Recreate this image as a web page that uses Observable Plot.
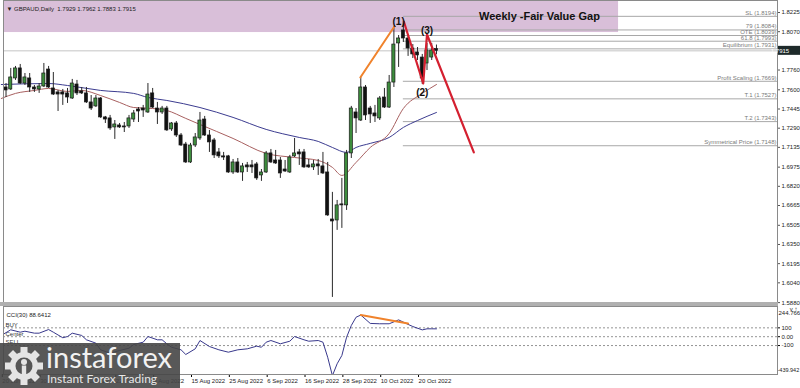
<!DOCTYPE html>
<html><head><meta charset="utf-8">
<script src="https://cdn.jsdelivr.net/npm/d3@7"></script>
<script src="https://cdn.jsdelivr.net/npm/@observablehq/plot@0.6"></script>
<style>
body{margin:0;background:#fff;}
#wrap{position:relative;width:800px;height:388px;overflow:hidden;font-family:"Liberation Sans",Arial,sans-serif;background:#fff;}
#main{position:absolute;left:0;top:0;}
#sep{position:absolute;left:0;top:302px;width:778px;height:4px;background:#b0b0b0;}
#sub{position:absolute;left:0;top:303px;}
#logo{position:absolute;left:0;top:343px;width:180px;height:45px;background:rgba(70,70,70,0.9);}
</style></head><body><div id="wrap"><div id="main"></div><div id="sub"></div><div id="sep"></div><div id="logo"></div></div>
<script>
// ---- data ----
const symbolTitle = "GBPAUD,Daily  1.7929 1.7962 1.7883 1.7915";
const open  = [1.7643,1.7619,1.7603,1.7692,1.7773,1.7651,1.7692,1.7619,1.7603,1.7627,1.7764,1.7611,1.7579,1.7579,1.7571,1.7530,1.7643,1.7587,1.7571,1.7498,1.7466,1.7530,1.7377,1.7369,1.7296,1.7312,1.7304,1.7304,1.7360,1.7441,1.7449,1.7417,1.7571,1.7449,1.7417,1.7449,1.7280,1.7328,1.7231,1.7158,1.7013,1.7150,1.7207,1.7360,1.7231,1.7191,1.7094,1.7062,1.7062,1.6932,1.7013,1.6932,1.6989,1.6989,1.6997,1.6908,1.6932,1.7086,1.7029,1.7029,1.6956,1.6932,1.7062,1.7094,1.7094,1.6989,1.6973,1.6997,1.6981,1.6932,1.6552,1.6544,1.6674,1.6666,1.7086,1.7417,1.7352,1.7619,1.7449,1.7409,1.7369,1.7538,1.7457,1.7659,1.7975,1.8080,1.8015,1.7934,1.7902,1.7861,1.7813,1.7861,1.7929];
const high  = [1.7659,1.7651,1.7773,1.7789,1.7805,1.7732,1.7732,1.7635,1.7651,1.7813,1.7789,1.7740,1.7595,1.7603,1.7611,1.7684,1.7676,1.7619,1.7619,1.7554,1.7554,1.7538,1.7385,1.7393,1.7352,1.7328,1.7336,1.7393,1.7433,1.7457,1.7474,1.7651,1.7611,1.7498,1.7466,1.7466,1.7336,1.7344,1.7247,1.7175,1.7167,1.7247,1.7417,1.7385,1.7272,1.7207,1.7126,1.7094,1.7070,1.7037,1.7045,1.7005,1.7013,1.7029,1.7013,1.6956,1.7102,1.7118,1.7110,1.7053,1.7029,1.7070,1.7207,1.7118,1.7118,1.7037,1.7029,1.7037,1.7094,1.7013,1.6771,1.6706,1.6884,1.7110,1.7466,1.7449,1.7700,1.7635,1.7466,1.7474,1.7546,1.7611,1.7716,1.8112,1.8039,1.8144,1.8039,1.7966,1.7942,1.7886,1.7975,1.7975,1.7962];
const low   = [1.7546,1.7538,1.7595,1.7676,1.7643,1.7635,1.7579,1.7579,1.7571,1.7619,1.7611,1.7554,1.7425,1.7474,1.7490,1.7522,1.7554,1.7562,1.7490,1.7433,1.7457,1.7369,1.7328,1.7272,1.7199,1.7288,1.7255,1.7288,1.7336,1.7336,1.7377,1.7409,1.7449,1.7320,1.7401,1.7264,1.7264,1.7215,1.7142,1.7005,1.7005,1.7134,1.7191,1.7223,1.7094,1.7045,1.7045,1.7029,1.6924,1.6916,1.6924,1.6860,1.6932,1.6924,1.6868,1.6860,1.6924,1.7005,1.6997,1.6884,1.6932,1.6924,1.7053,1.6989,1.6965,1.6965,1.6948,1.6908,1.6916,1.6577,1.5922,1.6464,1.6480,1.6625,1.7045,1.7247,1.7344,1.7352,1.7328,1.7336,1.7352,1.7449,1.7449,1.7619,1.7781,1.7983,1.7870,1.7853,1.7837,1.7643,1.7756,1.7837,1.7883];
const close = [1.7619,1.7595,1.7700,1.7773,1.7651,1.7700,1.7619,1.7603,1.7627,1.7732,1.7619,1.7562,1.7562,1.7562,1.7538,1.7651,1.7571,1.7571,1.7498,1.7449,1.7530,1.7377,1.7360,1.7288,1.7320,1.7296,1.7296,1.7369,1.7409,1.7425,1.7433,1.7562,1.7457,1.7417,1.7449,1.7272,1.7328,1.7231,1.7150,1.7013,1.7150,1.7215,1.7352,1.7231,1.7175,1.7070,1.7062,1.7053,1.6932,1.7013,1.6932,1.6981,1.6973,1.6973,1.6884,1.6932,1.7086,1.7013,1.7005,1.6924,1.6940,1.7053,1.7086,1.7078,1.6973,1.6973,1.6997,1.6981,1.6924,1.6585,1.6536,1.6666,1.6666,1.7086,1.7449,1.7369,1.7619,1.7393,1.7401,1.7385,1.7530,1.7457,1.7659,1.7966,1.8015,1.8015,1.7934,1.7886,1.7878,1.7692,1.7918,1.7918,1.7915];
// moving averages: [bar, price]
const maSlow = [[0,1.7643],[10,1.7651],[14,1.7635],[21,1.7595],[28,1.7571],[31,1.7538],[35,1.7514],[42,1.7457],[49,1.7377],[56,1.7280],[63,1.7215],[67,1.7183],[70,1.7134],[73,1.7094],[75,1.7134],[78,1.7167],[82,1.7215],[85,1.7296],[88,1.7352],[92,1.7417]];
const maFast = [[0,1.7530],[3,1.7571],[7,1.7595],[10,1.7611],[14,1.7587],[17,1.7595],[21,1.7554],[25,1.7498],[28,1.7457],[32,1.7449],[35,1.7433],[39,1.7369],[42,1.7320],[49,1.7207],[56,1.7086],[62,1.7053],[67,1.7029],[70,1.6973],[72,1.6908],[75,1.7013],[78,1.7134],[82,1.7247],[85,1.7449],[89,1.7571],[92,1.7643]];
// CCI(30): [bar, value]
const cci = [[0,14],[2,78],[4,51],[5,62],[7,40],[8,40],[10,81],[11,51],[13,-12],[14,2],[15,40],[17,14],[18,-35],[20,-73],[21,-148],[23,-186],[25,-156],[27,-130],[28,-88],[30,-62],[31,2],[33,-35],[34,-35],[35,-80],[36,-119],[38,-148],[39,-201],[41,-137],[42,-43],[44,-111],[46,-148],[48,-175],[50,-148],[52,-137],[54,-107],[55,-119],[56,-62],[57,-43],[59,-80],[61,-51],[62,2],[64,-35],[65,-51],[67,-43],[68,-62],[69,-232],[70,-439.942],[71,-306],[72,-212],[73,-6],[74,127],[75,220],[76,244.766],[78,150],[80,146],[82,146],[84,190],[86,139],[87,115],[89,77],[90,89],[91,89],[92,88.6412]];
const cciLevels = [100, 0, -100];
const cciLevelNames = ["BUY", "Center", "SELL"];
const cciTitle = "CCI(30) 88.6412";
const cciMax = "244.766", cciMin = "-439.942";
// drawings
const fibNames  = ["SL (1.8194)","79 (1.8084)","OTE (1.8039)","61.8 (1.7993)","Equilibrium (1.7931)","Profit Scaling (1.7669)","T.1 (1.7527)","T.2 (1.7343)","Symmetrical Price (1.7148)"];
const fibPrices = [1.8194,1.8084,1.8039,1.7993,1.7931,1.7669,1.7527,1.7343,1.7148];
const fibStart  = [85,85,85,85,85,85,85,85,85];
const fvg = {start: -5, end: 130.5, low: 1.8063, high: 1.8330, label: "Weekly -Fair Value Gap", labelBar: 101, labelPrice: 1.8193};
const orangeLeg = [[75.9,1.7700],[83.1,1.8112]];
const redLeg = [[85.1,1.8152],[89.2,1.7651],[90.0,1.8047],[99.9,1.7094]];
const waveLabels = ["(1)","(2)","(3)"];
const waveBars   = [84, 89, 90];
const wavePrices = [1.8152, 1.7579, 1.8080];
const cciOrange = [[76,244.766],[86,150]];
const priceTicks = [1.8225,1.8070,1.7760,1.7600,1.7445,1.7290,1.7135,1.6975,1.6820,1.6665,1.6505,1.6350,1.6195,1.6040,1.5880];
const dateBars = [0,8,16,24,32,40,48,56,64,72,80,88];
const dateLabels = ["20 Jun 2022","30 Jun 2022","12 Jul 2022","22 Jul 2022","3 Aug 2022","15 Aug 2022","25 Aug 2022","6 Sep 2022","16 Sep 2022","28 Sep 2022","10 Oct 2022","20 Oct 2022"];

// ---- build ----
const bars = open.map((o, i) => ({i, o, h: high[i], l: low[i], c: close[i]}));
const last = bars[bars.length - 1];
const xDomain = [0.465, 164.1];
const font = "'Liberation Sans', Arial, sans-serif";
const fibs = fibNames.map((n, k) => ({n, p: fibPrices[k], s: fibStart[k]}));
const waves = waveLabels.map((t, k) => ({t, i: waveBars[k], p: wavePrices[k]}));

const bidBox = (index, scales, values, dim) => {
  const y = scales.y(last.c);
  const g = d3.create("svg:g");
  g.append("rect").attr("x", dim.width - dim.marginRight + 1).attr("y", y - 4.5)
    .attr("width", dim.marginRight - 1).attr("height", 9).attr("fill", "#1e2a2a");
  g.append("text").attr("x", dim.width - dim.marginRight + 3).attr("y", y + 2.2)
    .attr("fill", "#fff").attr("font-size", 6).attr("font-family", font).text(last.c.toFixed(4));
  return g.node();
};

const main = Plot.plot({
  width: 800, height: 304,
  marginLeft: 3, marginRight: 23, marginTop: 0, marginBottom: 2,
  style: {fontFamily: font, fontSize: "6px", background: "transparent", overflow: "visible"},
  x: {domain: xDomain, axis: null},
  y: {domain: [1.5881, 1.8322], axis: null},
  marks: [
    Plot.rect([fvg], {x1: "start", x2: "end", y1: "low", y2: "high", fill: "#d9bfd9", clip: true}),
    Plot.ruleY([last.c], {stroke: "#c4c4c4", strokeWidth: 1}),
    Plot.ruleY(fibs, {y: "p", x1: "s", x2: xDomain[1], stroke: "#a8a8a8", strokeWidth: 1}),
    Plot.text(fibs, {y: "p", text: "n", frameAnchor: "right", textAnchor: "end", dx: -1, dy: -3.5, fill: "#7a7a7a", fontSize: 6}),
    Plot.line(maSlow, {x: d => d[0], y: d => d[1], stroke: "#3c3c90", strokeWidth: 1, curve: "monotone-x"}),
    Plot.line(maFast, {x: d => d[0], y: d => d[1], stroke: "#a86060", strokeWidth: 1, curve: "monotone-x"}),
    Plot.ruleX(bars, {x: "i", y1: "l", y2: "h", stroke: "#2a2a2a", strokeWidth: 1, clip: true}),
    Plot.rect(bars, {x1: d => d.i - 0.33, x2: d => d.i + 0.33, y1: "o", y2: "c",
      fill: d => d.c > d.o ? "#3d8d3d" : "#111", stroke: "#1a1a1a", strokeWidth: 0.7, clip: true}),
    Plot.line(orangeLeg, {x: d => d[0], y: d => d[1], stroke: "#f0832c", strokeWidth: 2}),
    Plot.line(redLeg, {x: d => d[0], y: d => d[1], stroke: "#d42030", strokeWidth: 2.2}),
    Plot.text(waves, {x: "i", y: "p", text: "t", fontWeight: "bold", fontSize: 10, fill: "#111"}),
    Plot.text([fvg], {x: "labelBar", y: "labelPrice", text: "label", textAnchor: "start", fontWeight: "bold", fontSize: 11, fill: "#111"}),
    Plot.text([symbolTitle], {text: d => "\u25BC " + d, frameAnchor: "top-left", dx: 3, dy: 6, fontSize: 6, fill: "#222"}),
    Plot.axisY({anchor: "right", ticks: priceTicks, tickFormat: d => d.toFixed(4), tickSize: 2, tickPadding: 2, fontSize: 6, fill: "#222", stroke: "#555"}),
    Plot.frame({stroke: "#8a8a8a"}),
    bidBox
  ]
});
document.getElementById("main").appendChild(main);

const dateMap = new Map(dateBars.map((b, k) => [b, dateLabels[k]]));
const lvl = cciLevels.map((v, k) => ({v, n: cciLevelNames[k]}));
const sub = Plot.plot({
  width: 800, height: 85,
  marginLeft: 3, marginRight: 23, marginTop: 3, marginBottom: 14,
  style: {fontFamily: font, fontSize: "6px", background: "transparent", overflow: "visible"},
  x: {domain: xDomain, axis: null},
  y: {domain: [-427, 341.2], axis: null},
  marks: [
    Plot.ruleY(lvl, {y: "v", stroke: "#777", strokeDasharray: "2,2", strokeWidth: 0.8}),
    Plot.text(lvl, {y: "v", text: "n", frameAnchor: "left", textAnchor: "start", dx: 2, dy: -3, fontSize: 6, fill: "#333"}),
    Plot.line(cci, {x: d => d[0], y: d => d[1], stroke: "#38388c", strokeWidth: 1, clip: true}),
    Plot.line(cciOrange, {x: d => d[0], y: d => d[1], stroke: "#f0832c", strokeWidth: 2}),
    Plot.text([cciTitle], {frameAnchor: "top-left", dx: 3, dy: 6, fontSize: 6, fill: "#222"}),
    Plot.axisY({anchor: "right", ticks: cciLevels, tickFormat: d => d === 0 ? "0.00" : String(d), tickSize: 2, tickPadding: 2, fontSize: 6, fill: "#222"}),
    Plot.text([cciMax], {frameAnchor: "top-right", textAnchor: "start", dx: 1, dy: 4, fontSize: 6, fill: "#222"}),
    Plot.text([cciMin], {frameAnchor: "bottom-right", textAnchor: "start", dx: 0, dy: -3, fontSize: 5.5, fill: "#222"}),
    Plot.axisX({anchor: "bottom", ticks: dateBars, tickFormat: d => dateMap.get(d), textAnchor: "start", tickSize: 3, tickPadding: 1, dx: 1, fontSize: 6, fill: "#222"}),
    Plot.frame({stroke: "#8a8a8a"})
  ]
});
document.getElementById("sub").appendChild(sub);

// logo overlay
const logo = d3.select("#logo").append("svg").attr("width", 180).attr("height", 45);
const gear = logo.append("g").attr("transform", "translate(24,23)");
for (let k = 0; k < 8; k++) {
  gear.append("rect").attr("x", -3.5).attr("y", -19).attr("width", 7).attr("height", 8)
    .attr("fill", "#e4e4e4").attr("transform", `rotate(${k * 45})`);
}
gear.append("circle").attr("r", 14).attr("fill", "#e4e4e4");
gear.append("circle").attr("r", 8.5).attr("fill", "#555");
gear.append("circle").attr("cx", 0).attr("cy", -4).attr("r", 3).attr("fill", "#e4e4e4");
gear.append("rect").attr("x", -2.2).attr("y", -0.5).attr("width", 4.4).attr("height", 12).attr("fill", "#e4e4e4");
logo.append("text").attr("x", 46).attr("y", 25).attr("font-family", "Lato, 'Open Sans', sans-serif")
  .attr("font-size", 29).attr("fill", "#f2f2f2").text("instaforex");
logo.append("text").attr("x", 47).attr("y", 40).attr("font-family", "Lato, 'Open Sans', sans-serif")
  .attr("font-size", 12).attr("fill", "#e8e8e8").text("Instant Forex Trading");
</script></body></html>
